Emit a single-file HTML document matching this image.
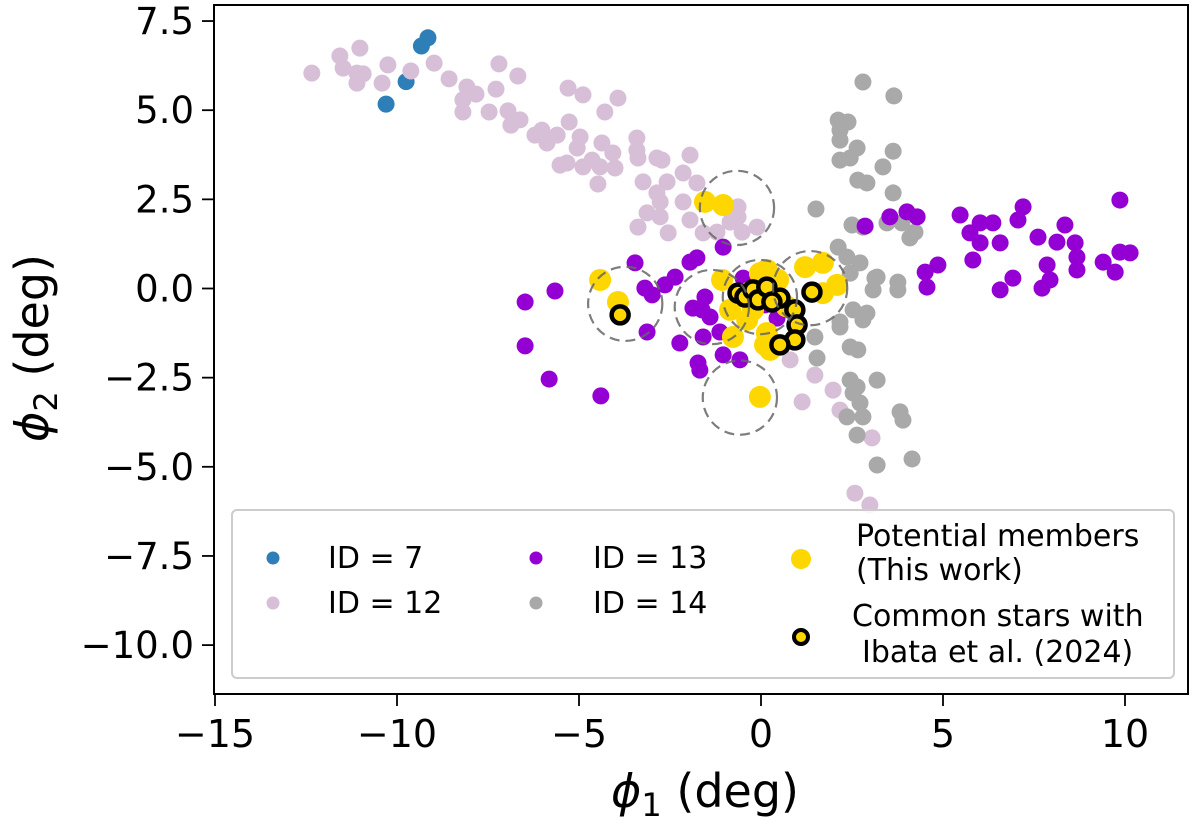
<!DOCTYPE html>
<html><head><meta charset="utf-8"><style>
html,body{margin:0;padding:0;background:#fff;width:1200px;height:823px;overflow:hidden}
svg{display:block;font-family:"DejaVu Sans","Liberation Sans",sans-serif}
</style></head><body>
<svg id="chart" width="1200" height="823" viewBox="0 0 1200 823"></svg>
<script>
// ---- data ----
const xTicks=[-15,-10,-5,0,5,10];
const yTicks=[7.5,5.0,2.5,0.0,-2.5,-5.0,-7.5,-10.0];
const xTickLabels=["\u221215","\u221210","\u22125","0","5","10"];
const yTickLabels=["7.5","5.0","2.5","0.0","\u22122.5","\u22125.0","\u22127.5","\u221210.0"];
const id7X=[-10.3,-9.75,-9.33,-9.15];
const id7Y=[5.17,5.8,6.8,7.03];
const id12X=[-12.34,-11.57,-11.02,-11.48,-11.10,-10.93,-11.10,-10.41,-10.25,-9.62,-8.98,-8.57,-8.08,-7.83,-8.19,-8.19,-7.47,-7.28,-7.20,-6.68,-6.95,-6.62,-6.87,-6.21,-5.88,-5.60,-6.02,-5.27,-5.30,-4.89,-4.29,-3.93,-4.97,-5.05,-4.37,-4.07,-4.01,-4.64,-4.42,-4.89,-5.52,-5.33,-4.48,-3.41,-3.41,-3.38,-2.86,-2.72,-1.95,-2.14,-1.76,-2.58,-3.24,-2.86,-2.77,-3.13,-2.77,-3.38,-2.55,-2.14,-1.95,-1.59,-1.21,-0.63,-0.63,-0.85,-0.52,-0.11,0.80,1.48,1.13,1.98,2.17,3.05,2.58,2.99];
const id12Y=[6.04,6.52,6.74,6.18,6.04,6.02,5.76,5.76,6.27,6.10,6.32,5.88,5.65,5.45,5.29,4.95,4.95,5.59,6.30,5.96,4.98,4.73,4.58,4.30,4.08,4.30,4.44,4.67,5.62,5.43,4.95,5.34,4.25,3.94,4.08,3.80,3.38,3.60,3.41,3.41,3.46,3.52,2.93,4.22,3.88,3.66,3.66,3.60,3.74,3.24,2.96,2.99,2.99,2.68,2.43,2.12,2.01,1.72,1.56,2.43,1.92,1.56,1.58,2.29,2.01,1.86,1.58,1.72,-2.00,-2.43,-3.18,-2.85,-3.41,-4.19,-5.74,-6.07];
const id14X=[2.80,3.65,2.12,2.39,2.17,2.17,2.64,2.17,2.45,3.63,3.35,2.66,2.91,3.63,1.51,2.50,2.80,3.46,3.87,4.23,4.09,2.12,2.36,2.72,2.45,3.13,3.08,3.76,3.76,3.19,2.53,2.80,2.17,1.48,2.45,2.66,1.54,2.45,3.19,2.53,2.36,2.80,2.91,2.17,2.64,2.72,3.82,3.90,2.64,3.19,4.15];
const id14Y=[5.79,5.40,4.72,4.67,4.44,4.16,3.94,3.60,3.66,3.85,3.41,3.04,2.96,2.68,2.23,1.78,1.72,1.84,1.84,1.58,1.42,1.16,0.88,0.72,0.43,0.29,-0.04,0.18,-0.04,0.32,-0.60,-0.88,-1.08,-1.36,-1.64,-1.72,-1.95,-2.57,-2.57,-2.93,-3.60,-3.60,-0.69,-0.94,-2.76,-3.21,-3.46,-3.69,-4.11,-4.95,-4.78];
const id13X=[4.01,4.29,2.86,3.54,5.47,6.02,6.37,5.74,6.02,6.57,7.06,7.20,7.61,8.35,8.13,8.63,8.68,8.68,5.82,4.86,4.51,4.56,6.92,6.57,7.86,7.94,7.72,9.40,9.73,9.86,10.14,9.86,-6.48,-5.66,-6.48,-5.82,-4.40,-3.46,-3.19,-2.99,-2.64,-2.36,-3.13,-1.95,-1.76,-1.04,-1.87,-1.62,-1.54,-1.40,-2.23,-1.59,-1.73,-1.68,-1.04,-0.58,-1.13,-0.49,0.44,0.11,0.93];
const id13Y=[2.15,2.01,1.75,2.01,2.06,1.84,1.84,1.56,1.28,1.28,1.92,2.29,1.44,1.78,1.30,1.28,0.88,0.52,0.80,0.66,0.46,0.04,0.29,-0.04,0.66,0.24,0.01,0.74,0.46,1.02,1.00,2.48,-0.38,-0.07,-1.61,-2.54,-3.01,0.72,0.01,-0.18,0.10,0.32,-1.22,0.74,0.86,1.16,-0.55,-0.60,-0.24,-0.80,-1.53,-1.36,-2.09,-2.29,-1.86,-2.00,-1.22,0.29,-0.83,-0.46,-0.60];
const memX=[-4.42,-3.93,-1.07,-0.85,-0.77,-0.03,0.16,0.47,1.21,1.70,2.09,1.70,0.16,0.11,0.25,-0.03,-0.22,-0.38,-1.54,-1.04,-0.30,0.70];
const memY=[0.24,-0.38,0.24,-0.60,-1.36,0.43,0.52,0.24,0.60,0.72,0.10,-0.13,-1.25,-1.58,-1.72,-3.04,-0.60,-0.88,2.43,2.34,-0.10,-0.50];
const comX=[-3.87,-0.63,-0.44,-0.22,-0.08,0.16,0.52,0.93,0.99,0.93,0.52,1.40,0.30];
const comY=[-0.74,-0.13,-0.24,-0.04,-0.32,0.04,-0.27,-0.60,-1.02,-1.44,-1.58,-0.10,-0.38];
const circX=[-3.73,-1.35,-0.03,1.35,-0.66,-0.58];
const circY=[-0.43,-0.52,-0.24,0.01,2.26,-3.06];
const circR=1.02;

// ---- axes ----
const L=214,R=1188,T=5,B=694;
const xs=36.4;
const sx=v=>761+v*xs;
const sy=v=>288.5-v*35.66;
const NS="http://www.w3.org/2000/svg";
const svg=document.getElementById('chart');
function mk(tag,attrs,parent){const e=document.createElementNS(NS,tag);for(const k in attrs)e.setAttribute(k,attrs[k]);(parent||svg).appendChild(e);return e;}

const clip=mk('clipPath',{id:'pc'});mk('rect',{x:L,y:T,width:R-L,height:B-T},clip);
const plot=mk('g',{'clip-path':'url(#pc)'});



function series(xa,ya,fill,r,name){
  const g=mk('g',{},plot);
  
  
  xa.forEach((x,i)=>{const c=mk('circle',{cx:sx(x),cy:sy(ya[i]),r:r,fill:fill},g);
    
    });
}
series(id7X,id7Y,'#2e7eb8',8.5,'id7-series');
series(id12X,id12Y,'#d8bfd8',8.5,'id12-series');
series(id14X,id14Y,'#a9a9a9',8.5,'id14-series');
series(id13X,id13Y,'#9400d3',8.5,'id13-series');
series(memX,memY,'#ffd700',11,'potential-members-series');
{
  const g=mk('g',{},plot);
  
  
  comX.forEach((x,i)=>{const c=mk('circle',{cx:sx(x),cy:sy(comY[i]),r:8.5,fill:'#ffd700',stroke:'#000','stroke-width':4.5},g);
    
    });
}
{
  const g=mk('g',{},plot);
  
  
  circX.forEach((x,i)=>{const c=mk('circle',{cx:sx(x),cy:sy(circY[i]),r:circR*36.4,fill:'none',stroke:'#666','stroke-opacity':0.85,'stroke-width':2.2,'stroke-dasharray':'10,6'},g);
    
    });
}
const frame=mk('rect',{x:L,y:T,width:R-L,height:B-T,fill:'none',stroke:'#000','stroke-width':2});



xTicks.forEach((t,i)=>{const x=sx(t);
  const l=mk('line',{x1:x,x2:x,y1:B,y2:B+12,stroke:'#000','stroke-width':1.8});
  
  
  const tx=mk('text',{x:x,y:B+53,'text-anchor':'middle','font-size':38,fill:'#000'});tx.textContent=xTickLabels[i];
  
  
});
yTicks.forEach((t,i)=>{const y=sy(t);
  const l=mk('line',{x1:L-12,x2:L,y1:y,y2:y,stroke:'#000','stroke-width':1.8});
  
  
  const tx=mk('text',{x:L-20,y:y+13,'text-anchor':'end','font-size':37,fill:'#000'});tx.textContent=yTickLabels[i];
  
  
});
</script>
<svg style="position:absolute;left:0;top:0" width="1200" height="823">
  <text x="705" y="807" text-anchor="middle" font-size="46" font-family="DejaVu Sans, sans-serif"><tspan font-style="italic">ϕ</tspan><tspan font-size="32" dy="9">1</tspan><tspan dy="-9"> (deg)</tspan></text>
  <text transform="translate(48,348) rotate(-90)" text-anchor="middle" font-size="46" font-family="DejaVu Sans, sans-serif"><tspan font-style="italic">ϕ</tspan><tspan font-size="32" dy="9">2</tspan><tspan dy="-9"> (deg)</tspan></text>
  <g font-family="DejaVu Sans, sans-serif" font-size="30">
    <rect x="232" y="510" width="942" height="168" rx="5" fill="#fff" fill-opacity="0.85" stroke="#ccc" stroke-width="2"/>
    <circle cx="273" cy="558" r="6.5" fill="#2e7eb8"/>
    <text x="328" y="568">ID = 7</text>
    <circle cx="273" cy="603" r="6.5" fill="#d8bfd8"/>
    <text x="328" y="613">ID = 12</text>
    <circle cx="536" cy="558" r="6.5" fill="#9400d3"/>
    <text x="593" y="568">ID = 13</text>
    <circle cx="536" cy="603" r="6.5" fill="#a9a9a9"/>
    <text x="593" y="613">ID = 14</text>
    <circle cx="801" cy="559" r="10" fill="#ffd700"/>
    <text x="856" y="546">Potential members</text>
    <text x="856" y="580"> (This work)</text>
    <circle cx="801" cy="637" r="7" fill="#ffd700" stroke="#000" stroke-width="4"/>
    <text x="852" y="626">Common stars with</text>
    <text x="862" y="662">Ibata et al. (2024)</text>
  </g>
</svg>
</body></html>
